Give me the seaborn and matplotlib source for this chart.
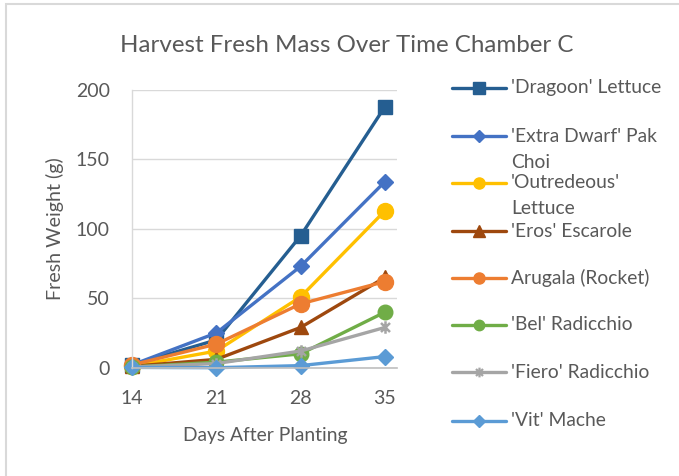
import matplotlib
matplotlib.use("Agg")
import matplotlib.pyplot as plt
import seaborn as sns
import pandas as pd
from matplotlib.lines import Line2D
from matplotlib.patches import Rectangle
from matplotlib.path import Path

# ---------------- data ----------------
days = [14, 21, 28, 35]
series_names = ["'Dragoon' Lettuce", "'Extra Dwarf' Pak Choi", "'Outredeous' Lettuce",
                "'Eros' Escarole", "Arugala (Rocket)", "'Bel' Radicchio",
                "'Fiero' Radicchio", "'Vit' Mache"]
dragoon = [2, 20, 95, 188]
pak_choi = [2, 25, 73, 134]
outredeous = [1, 12, 51, 113]
eros = [1, 6, 29, 65]
arugala = [2, 17, 46, 62]
bel = [0.5, 4, 10, 40]
fiero = [0.5, 3, 12, 29]
vit = [0.2, 0, 1.5, 8]
legend_lines = [["'Dragoon' Lettuce"], ["'Extra Dwarf' Pak", "Choi"],
                ["'Outredeous'", "Lettuce"], ["'Eros' Escarole"], ["Arugala (Rocket)"],
                ["'Bel' Radicchio"], ["'Fiero' Radicchio"], ["'Vit' Mache"]]
y_ticks = [0, 50, 100, 150, 200]
title = "Harvest Fresh Mass Over Time Chamber C"
x_label = "Days After Planting"
y_label = "Fresh Weight (g)"

values = [dragoon, pak_choi, outredeous, eros, arugala, bel, fiero, vit]
df = pd.DataFrame({
    "Days": days * len(series_names),
    "Weight": [v for vals in values for v in vals],
    "Crop": [n for n in series_names for _ in days],
})

# ---------------- style ----------------
star = Path([(0, -1), (0, 1), (-0.72, -0.72), (0.72, 0.72), (-0.72, 0.72), (0.72, -0.72)],
            [Path.MOVETO, Path.LINETO, Path.MOVETO, Path.LINETO, Path.MOVETO, Path.LINETO])
colors = ["#255E91", "#4472C4", "#FFC000", "#9E480E", "#ED7D31", "#70AD47", "#A5A5A5", "#5B9BD5"]
markers = ["s", "D", "o", "^", "o", "o", star, "D"]
msizes = [10.5, 8.5, 11.5, 10.5, 11.5, 10.5, 9, 8.5]
lg_msizes = [8, 6.5, 8, 8, 8, 7.5, 7, 6.5]

sns.set_theme(style="white")
plt.rcParams["font.family"] = ["Lato", "DejaVu Sans"]
TXT = "#595959"
GRID = "#D9D9D9"

W, H = 679, 476
fig = plt.figure(figsize=(W / 100, H / 100), dpi=100)
fx = lambda px: px / W
fy = lambda py: 1 - py / H

ax = fig.add_axes([fx(132), fy(367.7), fx(397) - fx(132), fy(90) - fy(367.7)])

for name, col, mk, ms in zip(series_names, colors, markers, msizes):
    sub = df[df["Crop"] == name]
    is_star = not isinstance(mk, str)
    sns.lineplot(data=sub, x="Days", y="Weight", ax=ax, color=col, linewidth=2.4,
                 marker=mk, markersize=ms, markeredgecolor=col,
                 markerfacecolor="none" if is_star else col,
                 markeredgewidth=1.8 if is_star else 1.0, legend=False, clip_on=False)

ax.set_xlim(14, 36)
ax.set_ylim(0, 200)
ax.set_xticks(days)
ax.set_xticklabels([str(d) for d in days])
ax.set_yticks(y_ticks)
ax.set_yticklabels([str(t) for t in y_ticks])
ax.set_xlabel("")
ax.set_ylabel("")
ax.yaxis.grid(True, color=GRID, linewidth=1.0)
ax.xaxis.grid(False)
ax.set_axisbelow(True)
for s in ["top", "right"]:
    ax.spines[s].set_visible(False)
ax.spines["left"].set_color(GRID)
ax.spines["left"].set_linewidth(1.0)
ax.spines["bottom"].set_color("#BFBFBF")
ax.spines["bottom"].set_linewidth(1.2)
ax.tick_params(axis="x", length=4, width=1, color="#BFBFBF", direction="out",
               pad=12, labelsize=14, labelcolor=TXT)
ax.tick_params(axis="y", length=0, pad=16, labelsize=14, labelcolor=TXT)

# titles
t_title = fig.text(fx(347), fy(45), title, ha="center", va="center", color=TXT, fontsize=18)
t_x = fig.text(fx(265), fy(435), x_label, ha="center", va="center", color=TXT, fontsize=13)
t_y = fig.text(fx(55), fy(229), y_label, ha="center", va="center", rotation=90,
               color=TXT, fontsize=13)

# legend drawn manually in figure pixels
leg_y = [88, 136, 183, 231, 278, 325, 372, 421]
leg_texts = []
for lines, col, mk, ms, y in zip(legend_lines, colors, markers, lg_msizes, leg_y):
    is_star = not isinstance(mk, str)
    fig.add_artist(Line2D([fx(452), fx(506)], [fy(y), fy(y)], transform=fig.transFigure,
                          color=col, linewidth=2.4, solid_capstyle="round"))
    fig.add_artist(Line2D([fx(479)], [fy(y)], transform=fig.transFigure, marker=mk,
                          markersize=ms, color=col, markeredgecolor=col,
                          markerfacecolor="none" if is_star else col,
                          markeredgewidth=1.6 if is_star else 1.0, linestyle="none"))
    for i, line in enumerate(lines):
        leg_texts.append(fig.text(fx(511), fy(y + 26 * i), line, ha="left", va="center",
                                  color=TXT, fontsize=14))

# fit font sizes to measured pixel extents
fig.canvas.draw()
r = fig.canvas.get_renderer()
def scale_to(artist, target, vertical=False):
    bb = artist.get_window_extent(r)
    cur = bb.height if vertical else bb.width
    return artist.get_fontsize() * target / cur

s_title = scale_to(t_title, 453)
t_title.set_fontsize(s_title)
s_x = scale_to(t_x, 165)
t_x.set_fontsize(s_x)
t_y.set_fontsize(scale_to(t_y, 142, vertical=True))
s_leg = scale_to(leg_texts[0], 151)
for t in leg_texts:
    t.set_fontsize(s_leg)
lbl150 = ax.get_yticklabels()[3]
s_tick = scale_to(lbl150, 34)
ax.tick_params(axis="both", labelsize=s_tick)

# chart border
fig.add_artist(Rectangle((fx(6), -0.2), 2, fy(4) + 0.2, transform=fig.transFigure,
                         fill=False, edgecolor=GRID, linewidth=1.5))

fig.savefig("out.png", dpi=100)
